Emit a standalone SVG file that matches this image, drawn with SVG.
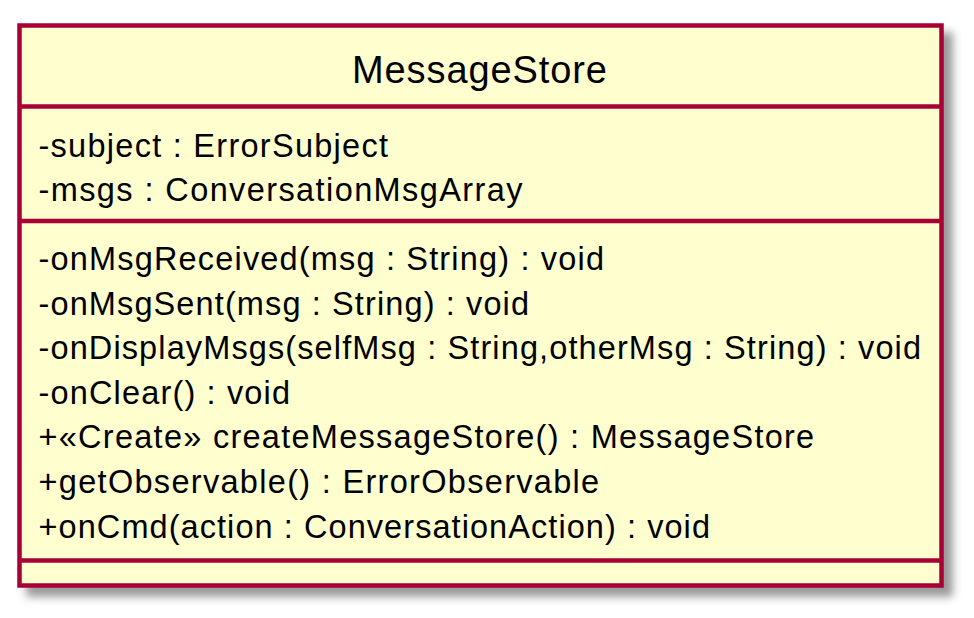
<svg xmlns="http://www.w3.org/2000/svg" width="974" height="618" viewBox="0 0 974 618">
<style>
.box{fill:#FEFECE;stroke:#A80036;stroke-width:4.5}
.sep{stroke:#A80036;stroke-width:4.5}
.title{font-family:"Liberation Sans",Arial,sans-serif;font-size:38px;fill:#000}
.mem{font-family:"Liberation Sans",Arial,sans-serif;font-size:32.5px;fill:#000}
</style>
<defs>
<filter id="shadow" x="-10%" y="-10%" width="120%" height="120%">
<feGaussianBlur in="SourceAlpha" stdDeviation="4.4" result="b"/>
<feColorMatrix in="b" type="matrix" values="0 0 0 0 0  0 0 0 0 0  0 0 0 0 0  0 0 0 0.4 0" result="c"/>
<feOffset in="c" dx="8.8" dy="8.8"/>
</filter>
</defs>
<rect width="974" height="618" fill="#FFFFFF"/>
<g id="node-MessageStore">
<rect x="19.5" y="25.5" width="922" height="560" fill="#000" stroke="#000" stroke-width="4.5" filter="url(#shadow)"/>
<rect class="box" x="19.5" y="25.5" width="922" height="560"/>
<text class="title" x="352" y="82.5" textLength="255">MessageStore</text>
<line class="sep" x1="19.5" y1="106.5" x2="941.5" y2="106.5"/>
<text class="mem" x="38.5" y="156.5" textLength="349.5">-subject : ErrorSubject</text>
<text class="mem" x="38.5" y="201" textLength="484">-msgs : ConversationMsgArray</text>
<line class="sep" x1="19.5" y1="221" x2="941.5" y2="221"/>
<text class="mem" x="38.5" y="270" textLength="565.5">-onMsgReceived(msg : String) : void</text>
<text class="mem" x="38.5" y="314.6" textLength="490.5">-onMsgSent(msg : String) : void</text>
<text class="mem" x="38.5" y="359.2" textLength="882.5">-onDisplayMsgs(selfMsg : String,otherMsg : String) : void</text>
<text class="mem" x="38.5" y="403.8" textLength="251.5">-onClear() : void</text>
<text class="mem" x="38.5" y="448.4" textLength="775.7">+«Create» createMessageStore() : MessageStore</text>
<text class="mem" x="38.5" y="493" textLength="560.7">+getObservable() : ErrorObservable</text>
<text class="mem" x="38.5" y="537.6" textLength="671.5">+onCmd(action : ConversationAction) : void</text>
<line class="sep" x1="19.5" y1="560.5" x2="941.5" y2="560.5"/>
</g>
<g id="connectors"/>
</svg>
